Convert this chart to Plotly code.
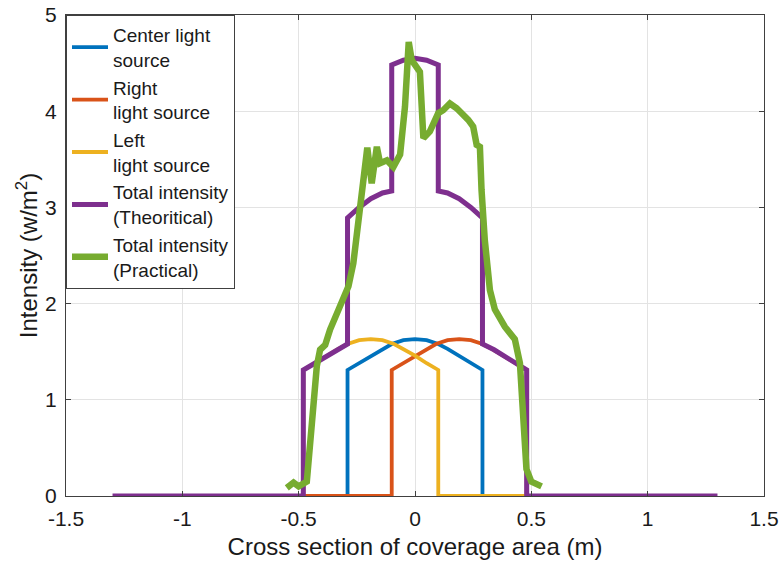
import plotly.graph_objects as go

# Individual light-source profiles (intensity in W/m^2 vs position in m)
center_x = [-0.48, -0.29, -0.29, -0.24, -0.19, -0.14, -0.10, -0.05, 0.00, 0.05, 0.10, 0.14, 0.19, 0.24, 0.29, 0.29, 0.48]
center_y = [0, 0, 1.31, 1.38, 1.46, 1.53, 1.58, 1.62, 1.63, 1.62, 1.58, 1.53, 1.46, 1.38, 1.31, 0, 0]

right_x = [-0.48, -0.10, -0.10, -0.05, 0.00, 0.05, 0.09, 0.14, 0.19, 0.24, 0.29, 0.33, 0.38, 0.43, 0.48, 0.48]
right_y = [0, 0, 1.31, 1.38, 1.46, 1.53, 1.58, 1.62, 1.63, 1.62, 1.58, 1.53, 1.46, 1.38, 1.31, 0]

left_x = [-0.48, -0.48, -0.43, -0.38, -0.33, -0.29, -0.24, -0.19, -0.14, -0.09, -0.05, 0.00, 0.05, 0.10, 0.10, 0.48]
left_y = [0, 1.31, 1.38, 1.46, 1.53, 1.58, 1.62, 1.63, 1.62, 1.58, 1.53, 1.46, 1.38, 1.31, 0, 0]

# Theoretical total intensity
theo_x = [-1.30, -0.48, -0.48, -0.43, -0.38, -0.34, -0.29, -0.29, -0.24, -0.19, -0.14, -0.10, -0.10,
          -0.05, 0.00, 0.05, 0.10, 0.10, 0.14, 0.19, 0.24, 0.29, 0.29, 0.34, 0.38, 0.43, 0.48, 0.48, 1.30]
theo_y = [0, 0, 1.31, 1.38, 1.46, 1.52, 1.58, 2.89, 3.00, 3.09, 3.15, 3.17, 4.48,
          4.53, 4.55, 4.53, 4.48, 3.17, 3.15, 3.09, 3.00, 2.89, 1.58, 1.52, 1.46, 1.38, 1.31, 0, 0]

# Measured total intensity
prac_x = [-0.551, -0.522, -0.500, -0.465, -0.443, -0.422, -0.408, -0.386, -0.365, -0.329, -0.286,
          -0.265, -0.243, -0.222, -0.205, -0.186, -0.164, -0.150, -0.121, -0.093, -0.064, -0.043,
          -0.027, -0.014, 0.021, 0.036, 0.064, 0.100, 0.121, 0.150, 0.179, 0.229, 0.250, 0.265,
          0.279, 0.286, 0.300, 0.322, 0.343, 0.386, 0.429, 0.451, 0.465, 0.479, 0.500, 0.544]
prac_y = [0.085, 0.14, 0.10, 0.15, 0.76, 1.35, 1.52, 1.57, 1.73, 1.94, 2.18,
          2.42, 2.84, 3.22, 3.62, 3.25, 3.63, 3.46, 3.49, 3.42, 3.55, 4.05,
          4.72, 4.53, 4.41, 3.72, 3.79, 3.98, 4.01, 4.08, 4.03, 3.91, 3.84, 3.65,
          3.63, 3.18, 2.66, 2.14, 1.94, 1.76, 1.63, 1.38, 0.76, 0.28, 0.15, 0.10]

x_ticks = [-1.5, -1, -0.5, 0, 0.5, 1, 1.5]
x_tick_text = ["-1.5", "-1", "-0.5", "0", "0.5", "1", "1.5"]
y_ticks = [0, 1, 2, 3, 4, 5]

FONT = "Liberation Sans, Arial, Helvetica, sans-serif"

series = [
    ("Center light<br>source", center_x, center_y, "#0072BD", 3.8),
    ("Right<br>light source", right_x, right_y, "#D95319", 3.8),
    ("Left<br>light source", left_x, left_y, "#EDB120", 3.8),
    ("Total intensity<br>(Theoritical)", theo_x, theo_y, "#7E2F8E", 5),
    ("Total intensity<br>(Practical)", prac_x, prac_y, "#77AC30", 6.5),
]

fig = go.Figure()
for name, xs, ys, color, width in series:
    fig.add_trace(go.Scatter(x=xs, y=ys, mode="lines", name=name,
                             line=dict(color=color, width=width)))

axis_common = dict(
    showline=True, linecolor="#404040", linewidth=1, mirror="ticks",
    ticks="inside", ticklen=5, tickcolor="#404040",
    showgrid=True, gridcolor="#e3e3e3", gridwidth=1,
    zeroline=False, automargin=False,
    tickfont=dict(family=FONT, size=21, color="#1a1a1a"),
)

fig.update_layout(
    width=780, height=565,
    margin=dict(l=66, r=16, t=15, b=69),
    paper_bgcolor="white", plot_bgcolor="white",
    font=dict(family=FONT, color="#1a1a1a"),
    xaxis=dict(range=[-1.5, 1.5], tickvals=x_ticks, ticktext=x_tick_text,
               ticklabelstandoff=4,
               title=dict(text="Cross section of coverage area (m)",
                          font=dict(family=FONT, size=24), standoff=8),
               **axis_common),
    yaxis=dict(range=[0, 5], tickvals=y_ticks, ticklabelstandoff=4,
               title=dict(text="Intensity (w/m<sup>2</sup>)",
                          font=dict(family=FONT, size=24), standoff=0),
               **axis_common),
    legend=dict(x=0, y=1, xanchor="left", yanchor="top",
                bgcolor="white", bordercolor="#404040", borderwidth=1,
                font=dict(family=FONT, size=19, color="#1a1a1a"),
                itemwidth=36, tracegroupgap=0),
    showlegend=True,
)

fig.write_html("out.html")
